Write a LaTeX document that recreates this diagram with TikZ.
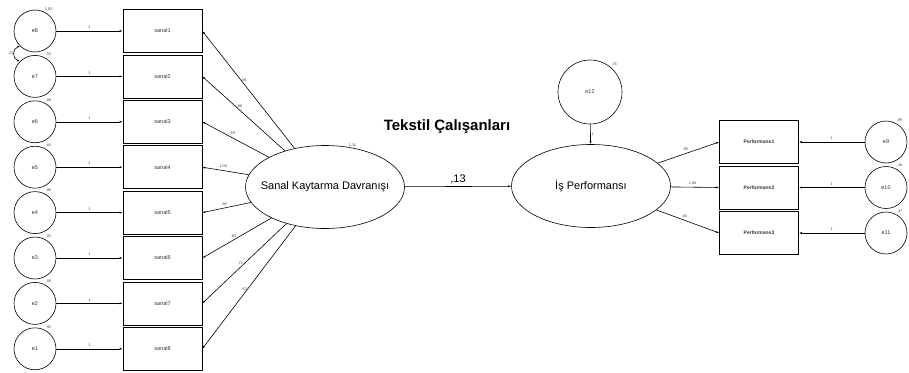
\documentclass[tikz,border=0pt]{standalone}
\usepackage{fontspec}
\setmainfont{Liberation Sans}
\usetikzlibrary{arrows.meta,shapes.geometric}

\begin{document}
\begin{tikzpicture}[x=1pt, y=-1pt, line width=.6pt,
  every node/.style={font=\fontsize{5.5}{6}\selectfont, text=black!80},
  err/.style={draw, circle, minimum size=42pt, inner sep=0pt},
  obs/.style={draw, minimum width=79pt, minimum height=43pt, inner sep=0pt},
  lat/.style={draw, ellipse, minimum width=159pt, minimum height=83pt, inner sep=0pt},
  lattext/.style={font=\fontsize{11}{13}\selectfont, text=black, inner sep=0pt},
  arr/.style={-{Latex[length=3pt,width=2pt]}},
  lbl/.style={font=\fontsize{3.8}{4}\selectfont, text=black!75, inner sep=.5pt}]
  \useasboundingbox (0,0) rectangle (909,372);
  % latent variables
  \node[lat, label={[lattext]center:Sanal Kaytarma Davranışı}] (sanal) at (325,187) {};
  \node[lat, label={[lattext]center:İş Performansı}] (isperf) at (591,186) {};
  \node[err, minimum size=64pt] (e12) at (590,92) {e12};
  \node[font=\bfseries\fontsize{15}{17}\selectfont, text=black] (title) at (447,127) {Tekstil Çalışanları};
  \node[lbl, anchor=south] at (sanal.55) {1,11};
  \node[lbl, anchor=south west] at (e12.50) {,76};
  \draw[arr] (sanal) -- node[above, font=\fontsize{11}{12}\selectfont, text=black, inner sep=2pt] {,13} (isperf);
  \draw[arr] (e12) -- node[right, lbl] {1} (isperf);
  % left block
  \foreach \i/\e/\v/\l in {1/8/{1,03}/{,56}, 2/7/{,52}/{,88}, 3/6/{,88}/{,69}, 4/5/{,64}/{1,00},
      5/4/{,86}/{,88}, 6/3/{,91}/{,83}, 7/2/{,56}/{,73}, 8/1/{,92}/{,62}} {
    \node[obs] (s\i) at (162.5,{31+(\i-1)*45.4}) {sanal\i};
    \node[err] (e\e) at (35,{31+(\i-1)*45.4}) {e\e};
    \node[lbl, anchor=south] at ([xshift=3pt,yshift=1pt]e\e.60) {\v};
    \draw[arr] (e\e) -- node[above, lbl, inner sep=2pt] {1} (s\i);
    \draw[arr] (sanal) -- node[pos=.55, above, lbl, inner sep=2pt] {\l} (s\i.east);
  }
  \draw[{Latex[length=2.5pt,width=1.8pt]}-{Latex[length=2.5pt,width=1.8pt]}]
    (e8.225) to[out=200, in=160, looseness=1.4] node[left, lbl] {,21} (e7.135);
  % right block
  \foreach \i/\e/\v/\l in {1/9/{,99}/{,95}, 2/10/{,16}/{1,00}, 3/11/{,37}/{,64}} {
    \node[obs, font=\bfseries\fontsize{5}{6}\selectfont] (p\i) at (759,{142+(\i-1)*45.5}) {Performans\i};
    \node[err] (e\e) at (886,{142+(\i-1)*45.5}) {e\e};
    \node[lbl, anchor=south] at ([xshift=3pt,yshift=1pt]e\e.60) {\v};
    \draw[arr] (e\e) -- node[above, lbl, inner sep=2pt] {1} (p\i);
    \draw[arr] (isperf) -- node[pos=.45, above, lbl, inner sep=2pt] {\l} (p\i.west);
  }
\end{tikzpicture}
\end{document}
